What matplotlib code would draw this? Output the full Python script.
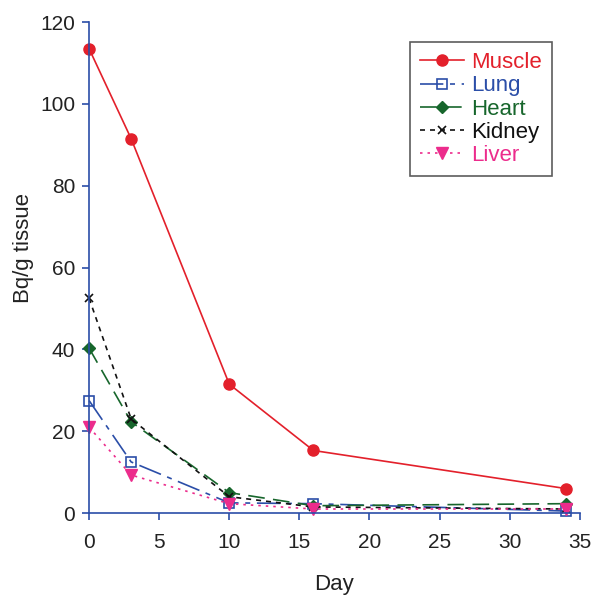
import matplotlib
matplotlib.use("Agg")
import matplotlib.pyplot as plt

days = [0, 3, 10, 16, 34]
muscle = [113.5, 91.5, 31.5, 15.3, 6.0]
lung = [27.5, 12.5, 2.5, 2.3, 0.5]
heart = [40.3, 22.3, 5.0, 1.8, 2.3]
kidney = [52.5, 23.0, 4.0, 1.5, 1.0]
liver = [21.0, 9.3, 2.3, 1.0, 1.0]

xticks = [0, 5, 10, 15, 20, 25, 30, 35]
yticks = [0, 20, 40, 60, 80, 100, 120]

plt.rcParams['font.family'] = ['Liberation Sans', 'DejaVu Sans']

fig = plt.figure(figsize=(5.94, 5.98), dpi=100)
ax = fig.add_axes([0.15, 0.142, 0.826, 0.821])

axis_color = '#2b4ea8'

ax.plot(days, muscle, color='#e3202b', lw=1.2, ls='-', marker='o', ms=8, label='Muscle')
ax.plot(days, lung, color='#2b4ea8', lw=1.2, ls=(0, (14, 4, 3, 4)), marker='s', ms=7,
        mfc='none', mec='#2b4ea8', mew=1.2, label='Lung')
ax.plot(days, heart, color='#17662c', lw=1.2, ls=(0, (10, 5)), marker='D', ms=6, label='Heart')
ax.plot(days, kidney, color='#111111', lw=1.2, ls=(0, (3, 3)), marker='x', ms=6, mew=1.2, label='Kidney')
ax.plot(days, liver, color='#ec2c8c', lw=1.2, ls=(0, (1.5, 3)), marker='v', ms=8, label='Liver')

ax.set_xlim(0, 35)
ax.set_ylim(0, 120)
ax.set_xticks(xticks)
ax.set_yticks(yticks)

for side in ['top', 'right']:
    ax.spines[side].set_visible(False)
for side in ['left', 'bottom']:
    ax.spines[side].set_color(axis_color)
    ax.spines[side].set_linewidth(1.2)

ax.tick_params(axis='both', colors=axis_color, labelcolor='#222222', labelsize=15,
               length=5, width=1.2, direction='out')
ax.tick_params(axis='x', pad=9)
ax.tick_params(axis='y', pad=5)

ax.set_xlabel('Day', fontsize=16, color='#222222', labelpad=16)
ax.set_ylabel('Bq/g tissue', fontsize=16, color='#222222')
ax.yaxis.set_label_coords(-0.112, 0.54)

leg = ax.legend(loc='upper right', bbox_to_anchor=(0.943, 0.959), borderaxespad=0,
                fontsize=16, frameon=True, fancybox=False, edgecolor='#333333',
                handlelength=2.0, handletextpad=0.3, borderpad=0.45, labelspacing=0.1)
leg.get_frame().set_linewidth(1.2)
colors = ['#e3202b', '#2b4ea8', '#17662c', '#111111', '#ec2c8c']
for txt, c in zip(leg.get_texts(), colors):
    txt.set_color(c)

for line in ax.get_lines():
    line.set_clip_on(False)

fig.savefig('out.png', dpi=100)
